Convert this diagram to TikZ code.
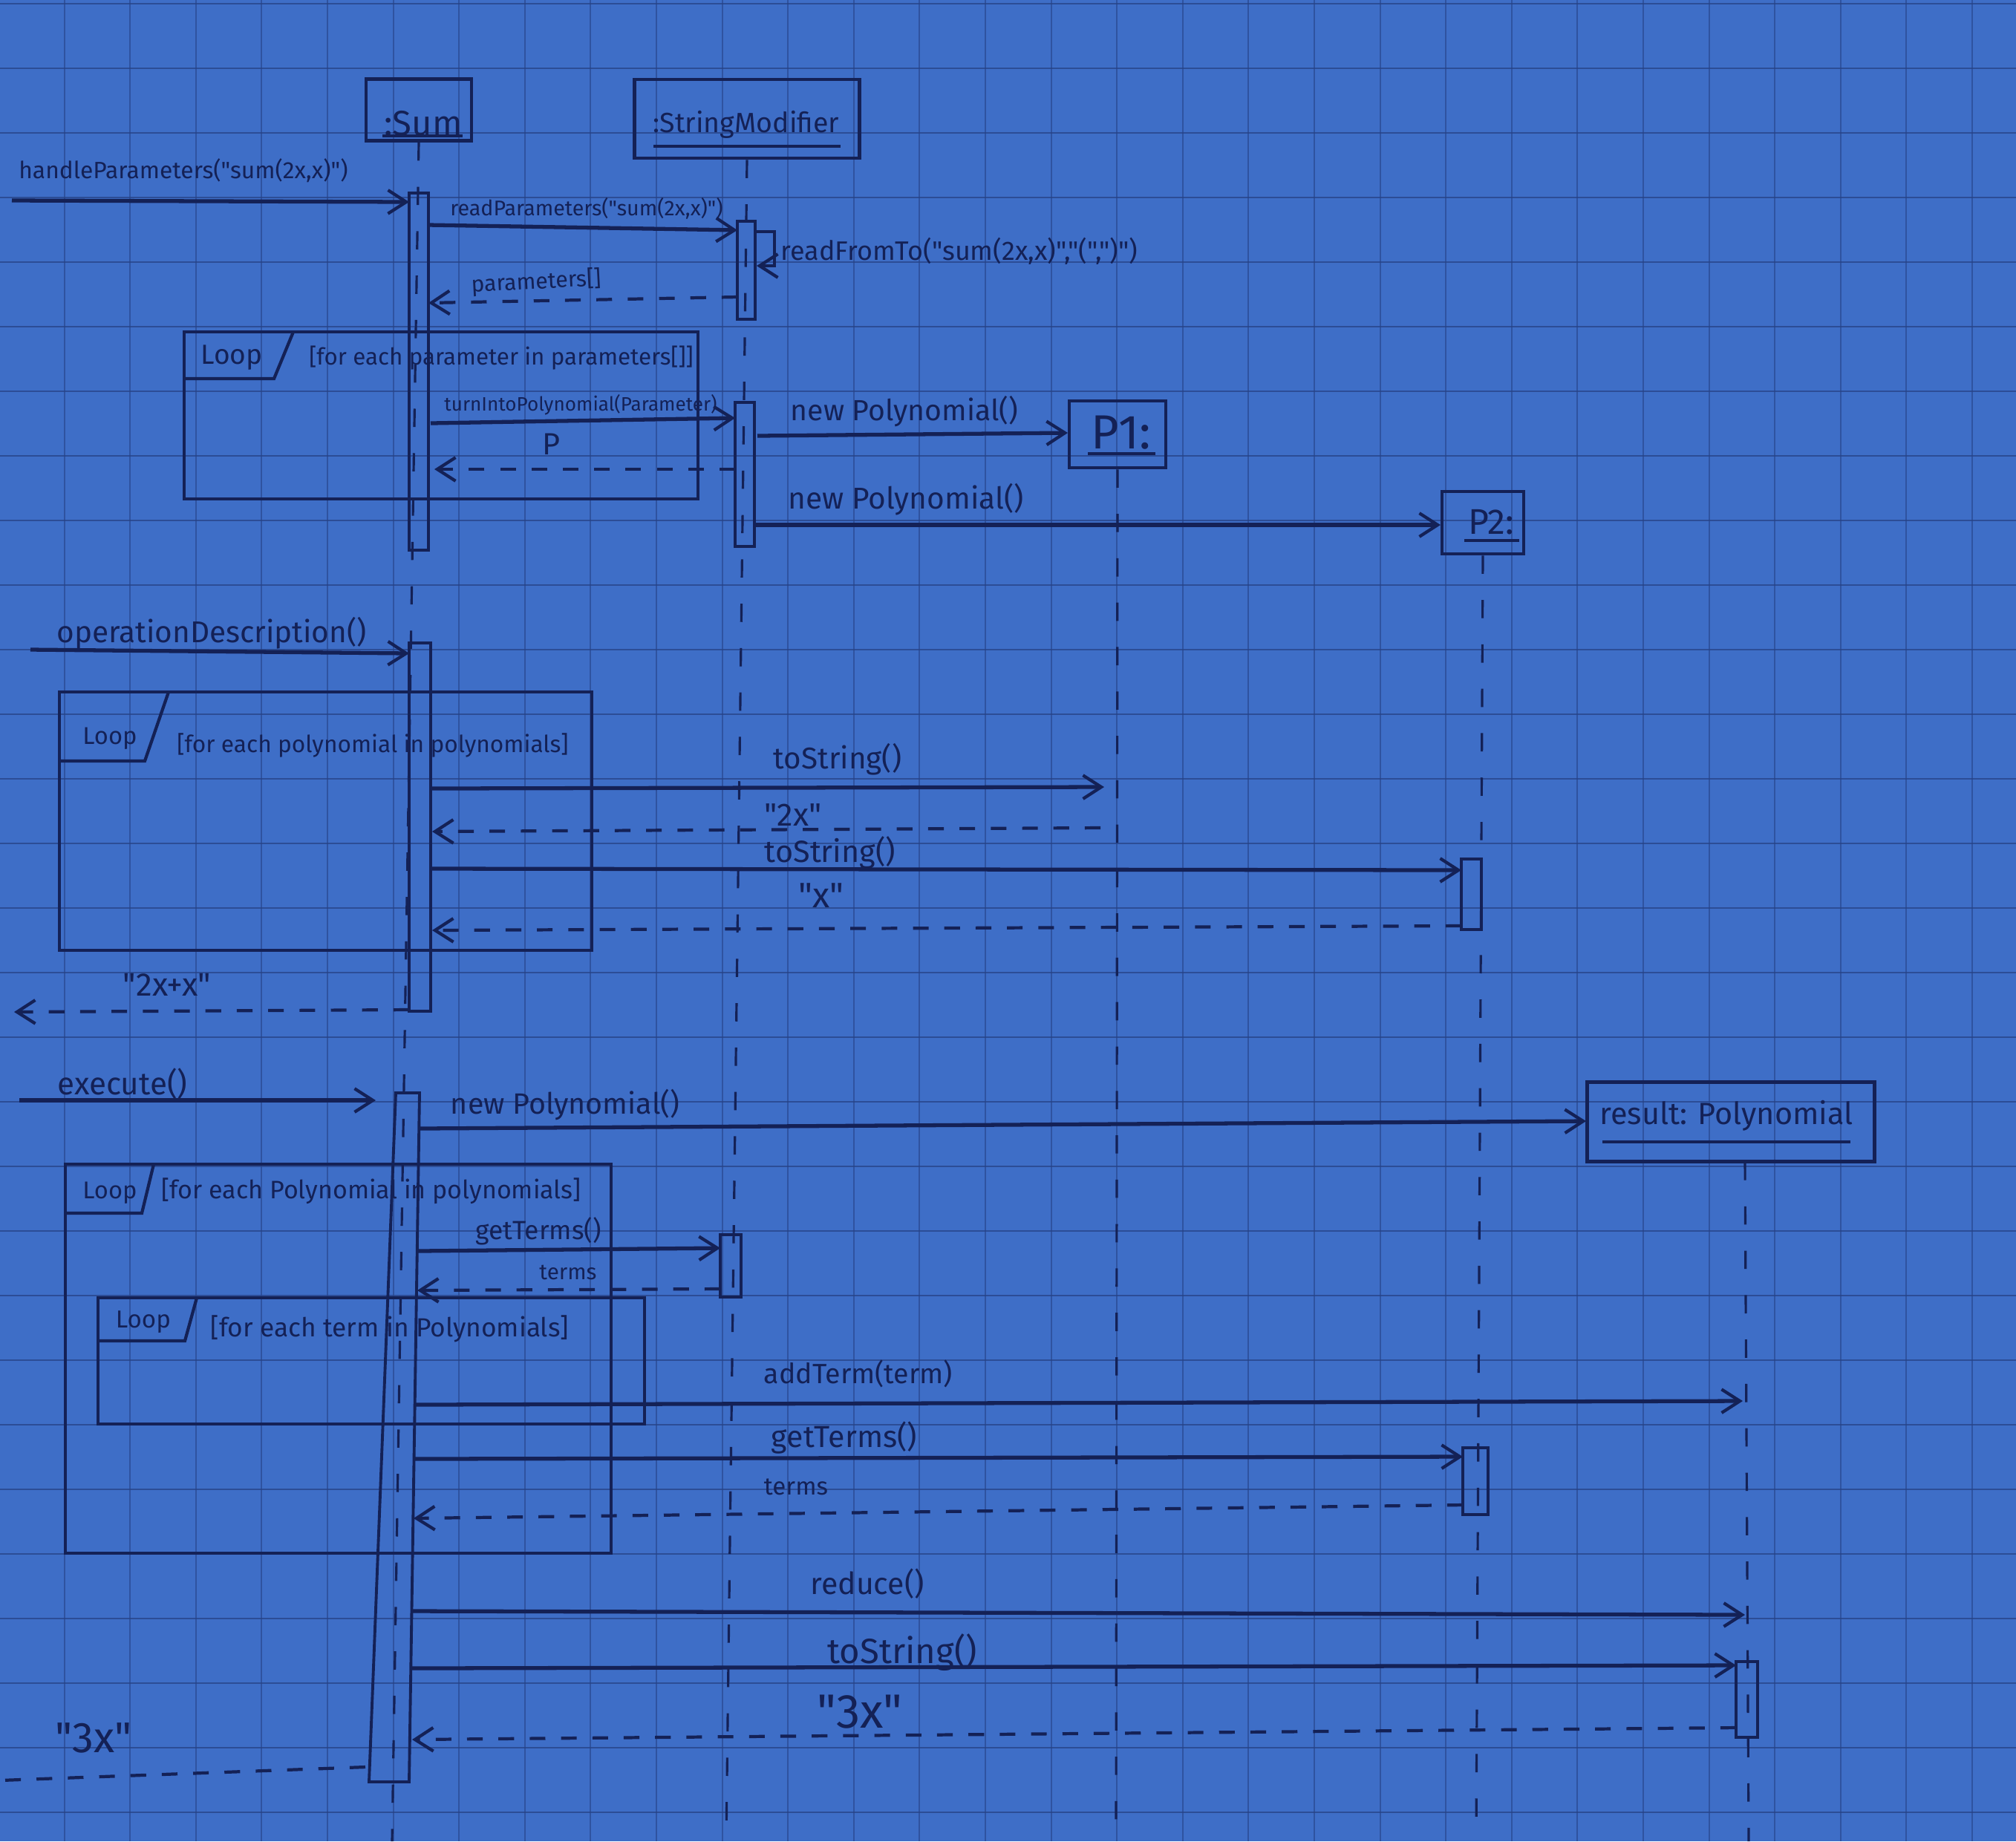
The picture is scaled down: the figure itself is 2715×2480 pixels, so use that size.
\documentclass[tikz,border=0pt]{standalone}
\usepackage{fontspec}
\setmainfont{Fira Sans}
\newfontfamily\handfont{Fira Sans}
\usetikzlibrary{arrows.meta}
\definecolor{paper}{RGB}{62,110,199}
\definecolor{gridc}{RGB}{38,66,134}
\definecolor{ink}{RGB}{20,33,86}
\newcommand{\hw}[2]{\resizebox{#1}{!}{\handfont #2}}
\tikzset{
  openhead/.style={-{Straight Barb[length=7pt,width=9pt,line width=1.2pt]}},
  callmsg/.style={draw=ink,line width=1.5pt,openhead},
  retmsg/.style={draw=ink,line width=1.2pt,dash pattern=on 6pt off 6pt,openhead},
  retplain/.style={draw=ink,line width=1.2pt,dash pattern=on 6pt off 6pt},
  lifeline/.style={draw=ink,line width=0.9pt,dash pattern=on 7pt off 10pt},
  actbar/.style={draw=ink,line width=1.1pt},
  loopframe/.style={draw=ink,line width=1.2pt},
  objbox/.style={draw=ink,line width=1.3pt,rectangle,inner sep=0pt},
  uline/.style={draw=ink,line width=1.2pt},
  lbl/.style={text=ink,inner sep=0pt},
  gridh/.style={draw=gridc,line width=0.8pt,opacity=0.75},
  gridv/.style={draw=gridc,line width=0.6pt,opacity=0.6},
}
\begin{document}
\begin{tikzpicture}[x=0.01cm,y=-0.01cm]
\useasboundingbox (0,0) rectangle (2715,2480);
\fill[paper] (0,0) rectangle (2715,2480);
\begin{scope}
\clip (0,0) rectangle (2715,2480);
\foreach \i in {0,...,31}{\draw[gridv] ({-2+88.6*\i},0) -- ({-2+88.6*\i},2480);}
\foreach \j in {0,...,28}{\draw[gridh] (0,{5+87*\j}) -- (2715,{5+87*\j});}
\end{scope}

% ---------- objects ----------
\node[objbox,minimum width=1.42cm,minimum height=0.83cm] (sum) at (564,148) {};
\node[lbl] (sumt) at (570,166) {\hw{1.05cm}{:Sum}};
\draw[uline] (515,183) -- (623,183);

\node[objbox,minimum width=3.03cm,minimum height=1.06cm] (sm) at (1006,160) {};
\node[lbl] (smt) at (1005,168) {\hw{2.5cm}{:StringModifier}};
\draw[uline] (880,197) -- (1132,197);

\node[objbox,minimum width=1.30cm,minimum height=0.90cm] (p1) at (1505,585) {};
\node[lbl] (p1t) at (1510,583) {\hw{0.8cm}{P1:}};
\draw[uline] (1465,611) -- (1556,611);

\node[objbox,minimum width=1.10cm,minimum height=0.84cm] (p2) at (1997,704) {};
\node[lbl] (p2t) at (2008,703) {\hw{0.62cm}{P2:}};
\draw[uline] (1972,728) -- (2046,728);

\node[objbox,minimum width=3.87cm,minimum height=1.07cm] (res) at (2331,1511) {};
\node[lbl] (rest) at (2325,1503) {\hw{3.41cm}{result: Polynomial}};
\draw[uline] (2158,1538) -- (2492,1538);

% ---------- lifelines ----------
\coordinate (sumbot) at (528,2480);
\coordinate (smbot) at (978,2480);
\coordinate (p1bot) at (1503,2480);
\coordinate (p2bot) at (1988,2480);
\coordinate (restop) at (2350,1565);
\coordinate (resbot) at (2355,2480);
\draw[lifeline] (sum.south) -- (sumbot);
\draw[lifeline] (sm.south) -- (smbot);
\draw[lifeline] (p1.south) -- (p1bot);
\draw[lifeline] (p2.south) -- (p2bot);
\draw[lifeline] (restop) -- (resbot);

% ---------- activation bars ----------
\draw[actbar] (551,260) rectangle (577,741);
\draw[actbar] (993,298) rectangle (1017,430);
\draw[actbar] (990,542) rectangle (1016,736);
\draw[actbar] (551,866) rectangle (580,1362);
\draw[actbar] (1968,1157) rectangle (1995,1252);
\draw[actbar] (533,1472) -- (565,1472) -- (551,2400) -- (497,2400) -- cycle;
\draw[actbar] (970,1663) rectangle (998,1747);
\draw[actbar] (1970,1950) rectangle (2004,2040);
\draw[actbar] (2338,2238) rectangle (2367,2340);

% ---------- loop frames ----------
\draw[loopframe] (248,447) rectangle (940,672);
\draw[loopframe] (248,510) -- (369,510) -- (395,447);
\node[lbl] (l1a) at (312,482) {\hw{0.83cm}{Loop}};
\node[lbl] (l1b) at (675,482) {\hw{5.17cm}{[for each parameter in parameters[]]}};

\draw[loopframe] (80,932) rectangle (797,1280);
\draw[loopframe] (80,1025) -- (195,1025) -- (227,932);
\node[lbl] (l2a) at (148,995) {\hw{0.73cm}{Loop}};
\node[lbl] (l2b) at (502,1004) {\hw{5.27cm}{[for each polynomial in polynomials]}};

\draw[loopframe] (88,1568) rectangle (823,2092);
\draw[loopframe] (88,1634) -- (191,1634) -- (207,1568);
\node[lbl] (l3a) at (148,1607) {\hw{0.73cm}{Loop}};
\node[lbl] (l3b) at (500,1604) {\hw{5.65cm}{[for each Polynomial in polynomials]}};

\draw[loopframe] (132,1748) rectangle (868,1918);
\draw[loopframe] (132,1806) -- (249,1806) -- (265,1748);
\node[lbl] (l4a) at (193,1781) {\hw{0.74cm}{Loop}};
\node[lbl] (l4b) at (525,1790) {\hw{4.82cm}{[for each term in Polynomials]}};

% ---------- messages ----------
\coordinate (m1s) at (16,270); \coordinate (m1e) at (551,272);
\draw[callmsg] (m1s) -- (m1e);
\node[lbl] (m1t) at (247,230) {\hw{4.43cm}{handleParameters("sum(2x,x)")}};

\coordinate (m2s) at (577,303); \coordinate (m2e) at (993,310);
\draw[callmsg] (m2s) -- (m2e);
\node[lbl] (m2t) at (790,281) {\hw{3.67cm}{readParameters("sum(2x,x)")}};

\coordinate (m3s) at (1017,312); \coordinate (m3a) at (1043,312);
\coordinate (m3b) at (1043,358); \coordinate (m3e) at (1019,358);
\draw[callmsg,line width=1.2pt] (m3s) -- (m3a) -- (m3b) -- (m3e);
\node[lbl] (m3t) at (1292,338) {\hw{4.8cm}{readFromTo("sum(2x,x)","(",")")}};

\coordinate (m4s) at (993,400); \coordinate (m4e) at (577,408);
\draw[retmsg] (m4s) -- (m4e);
\node[lbl,rotate=3] (m4t) at (722,380) {\hw{1.75cm}{parameters[]}};

\coordinate (m5s) at (580,570); \coordinate (m5e) at (990,563);
\draw[callmsg] (m5s) -- (m5e);
\node[lbl] (m5t) at (782,545) {\hw{3.67cm}{turnIntoPolynomial(Parameter)}};

\coordinate (m6s) at (990,632); \coordinate (m6e) at (585,632);
\draw[retmsg] (m6s) -- (m6e);
\node[lbl] (m6t) at (742,598) {\hw{0.24cm}{P}};

\coordinate (m7s) at (1020,587); \coordinate (m7e) at (1438,583);
\draw[callmsg] (m7s) -- (m7e);
\node[lbl] (m7t) at (1218,554) {\hw{3.06cm}{new Polynomial()}};

\coordinate (m8s) at (1018,707); \coordinate (m8e) at (1940,707);
\draw[callmsg] (m8s) -- (m8e);
\node[lbl] (m8t) at (1220,673) {\hw{3.17cm}{new Polynomial()}};

\coordinate (m9s) at (41,875); \coordinate (m9e) at (551,880);
\draw[callmsg] (m9s) -- (m9e);
\node[lbl] (m9t) at (285,853) {\hw{4.17cm}{operationDescription()}};

\coordinate (m10s) at (582,1062); \coordinate (m10e) at (1487,1060);
\draw[callmsg] (m10s) -- (m10e);
\node[lbl] (m10t) at (1128,1023) {\hw{1.72cm}{toString()}};

\coordinate (m11s) at (1482,1115); \coordinate (m11e) at (582,1120);
\draw[retmsg] (m11s) -- (m11e);
\node[lbl] (m11t) at (1068,1098) {\hw{0.77cm}{"2x"}};

\coordinate (m12s) at (582,1170); \coordinate (m12e) at (1968,1172);
\draw[callmsg] (m12s) -- (m12e);
\node[lbl] (m12t) at (1118,1148) {\hw{1.76cm}{toString()}};

\coordinate (m13s) at (1968,1247); \coordinate (m13e) at (582,1253);
\draw[retmsg] (m13s) -- (m13e);
\node[lbl] (m13t) at (1106,1206) {\hw{0.61cm}{"x"}};

\coordinate (m14s) at (551,1360); \coordinate (m14e) at (19,1363);
\draw[retmsg] (m14s) -- (m14e);
\node[lbl] (m14t) at (225,1326) {\hw{1.18cm}{"2x+x"}};

\coordinate (m15s) at (26,1482); \coordinate (m15e) at (506,1482);
\draw[callmsg] (m15s) -- (m15e);
\node[lbl] (m15t) at (165,1460) {\hw{1.75cm}{execute()}};

\coordinate (m16s) at (565,1520); \coordinate (m16e) at (2136,1510);
\draw[callmsg] (m16s) -- (m16e);
\node[lbl] (m16t) at (761,1488) {\hw{3.08cm}{new Polynomial()}};

\coordinate (m17s) at (563,1685); \coordinate (m17e) at (970,1681);
\draw[callmsg] (m17s) -- (m17e);
\node[lbl] (m17t) at (725,1658) {\hw{1.69cm}{getTerms()}};

\coordinate (m18s) at (970,1736); \coordinate (m18e) at (562,1738);
\draw[retmsg] (m18s) -- (m18e);
\node[lbl] (m18t) at (765,1714) {\hw{0.77cm}{terms}};

\coordinate (m19s) at (559,1892); \coordinate (m19e) at (2347,1887);
\draw[callmsg] (m19s) -- (m19e);
\node[lbl] (m19t) at (1156,1850) {\hw{2.54cm}{addTerm(term)}};

\coordinate (m20s) at (558,1965); \coordinate (m20e) at (1970,1962);
\draw[callmsg] (m20s) -- (m20e);
\node[lbl] (m20t) at (1137,1936) {\hw{1.96cm}{getTerms()}};

\coordinate (m21s) at (1970,2027); \coordinate (m21e) at (557,2045);
\draw[retmsg] (m21s) -- (m21e);
\node[lbl] (m21t) at (1072,2003) {\hw{0.86cm}{terms}};

\coordinate (m22s) at (556,2170); \coordinate (m22e) at (2350,2175);
\draw[callmsg] (m22s) -- (m22e);
\node[lbl] (m22t) at (1168,2133) {\hw{1.53cm}{reduce()}};

\coordinate (m23s) at (555,2247); \coordinate (m23e) at (2338,2243);
\draw[callmsg] (m23s) -- (m23e);
\node[lbl] (m23t) at (1215,2226) {\hw{2.01cm}{toString()}};

\coordinate (m24s) at (2338,2327); \coordinate (m24e) at (555,2343);
\draw[retmsg] (m24s) -- (m24e);
\node[lbl] (m24t) at (1158,2306) {\hw{1.15cm}{"3x"}};

\coordinate (m25s) at (492,2380); \coordinate (m25e) at (0,2398);
\draw[retplain] (m25s) -- (m25e);
\node[lbl] (m25t) at (126,2341) {\hw{1.03cm}{"3x"}};
\end{tikzpicture}
\end{document}
